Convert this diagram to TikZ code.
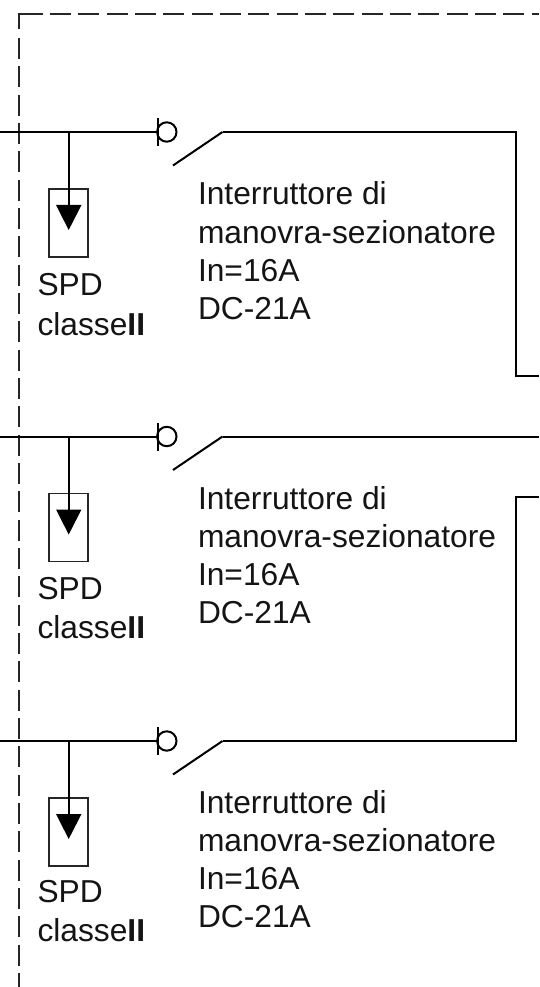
\documentclass[tikz,border=0pt]{standalone}
\usepackage{fontspec}
\setmainfont{Liberation Sans}
\tikzset{
  wire/.style={draw=black,line width=1.5pt,line join=miter},
  framebase/.style={draw=black!85,line width=1.5pt,line join=miter},
  frameline/.style={framebase,dash pattern=on 15.75pt off 5.5pt},
  lbl/.style={anchor=base west,inner sep=0pt,outer sep=0pt,font=\fontsize{23.8pt}{23.8pt}\selectfont,text=black!92},
  spdbox/.style={draw=black!85,line width=1.3pt,minimum width=29.5pt,minimum height=51pt,inner sep=0pt,outer sep=0pt,anchor=north west},
  tip/.style={fill=black,draw=none}
}
\begin{document}
\begin{tikzpicture}[x=0.75pt,y=-0.75pt]
\useasboundingbox (0,0) rectangle (539,987);
\fill[white] (0,0) rectangle (539,987);
% dashed enclosure: the corner is one longer stroke
\coordinate (fa) at (539,14.5);
\coordinate (fb) at (18.7,14.5);
\coordinate (fc) at (18.7,987);
\coordinate (fd) at (43,14.5);
\coordinate (fe) at (18.7,29.5);
\coordinate (ff) at (50,14.5);
\coordinate (fg) at (18.7,38);
\draw[framebase] (fd) -- (fb) -- (fe);
\draw[frameline] (ff) -- (fa);
\draw[frameline] (fg) -- (fc);
% three identical branches
\foreach \n/\y/\t/\s in {1/132/132/132,2/436.5/436/435.5,3/741/740/738.5}{
  \coordinate (in\n) at (0,\y);
  \coordinate (cont\n) at (157.5,\y);
  \coordinate (tickA\n) at (157.5,\y-14);
  \coordinate (tickB\n) at (157.5,\y+14);
  \coordinate (tap\n) at (68.5,\y);
  \coordinate (blade\n) at (173,\y+33.5);
  \coordinate (hinge\n) at (222.5,\y);
  \coordinate (ring\n) at (166.8,\y);
  \node[spdbox] (spd\n) at (49,\y+57) {};
  \coordinate (stem\n) at (68.5,\y+75);
  \path[tip,fill=black] (56,\y+73) -- (81.5,\y+73) -- (68.7,\y+98) -- cycle;
  \draw[wire] (in\n) -- (cont\n);
  \draw[wire] (tap\n) -- (stem\n);
  \draw[wire] (tickA\n) -- (tickB\n);
  \draw[wire] (ring\n) circle[radius=9.7];
  \draw[wire] (blade\n) -- (hinge\n);
  \node[lbl] (sw\n) at (198,\t+73) {Interruttore di};
  \node[lbl] (swb\n) at (198,\t+111.5) {manovra-sezionatore};
  \node[lbl] (swc\n) at (198,\t+149.5) {In=16A};
  \node[lbl] (swd\n) at (198,\t+187) {DC-21A};
  \node[lbl] (spt\n) at (37.5,\s+164) {SPD};
  \node[lbl] (spu\n) at (37.5,\s+203) {classe\textbf{II}};
}
% outgoing runs
\coordinate (b1) at (516,132);
\coordinate (c1) at (516,376);
\coordinate (o1) at (539,376);
\coordinate (o2) at (539,436.5);
\coordinate (b3) at (516,741);
\coordinate (c3) at (516,497);
\coordinate (o3) at (539,497);
\draw[wire] (hinge1) -- (b1) -- (c1) -- (o1);
\draw[wire] (hinge2) -- (o2);
\draw[wire] (hinge3) -- (b3) -- (c3) -- (o3);
\end{tikzpicture}
\end{document}
